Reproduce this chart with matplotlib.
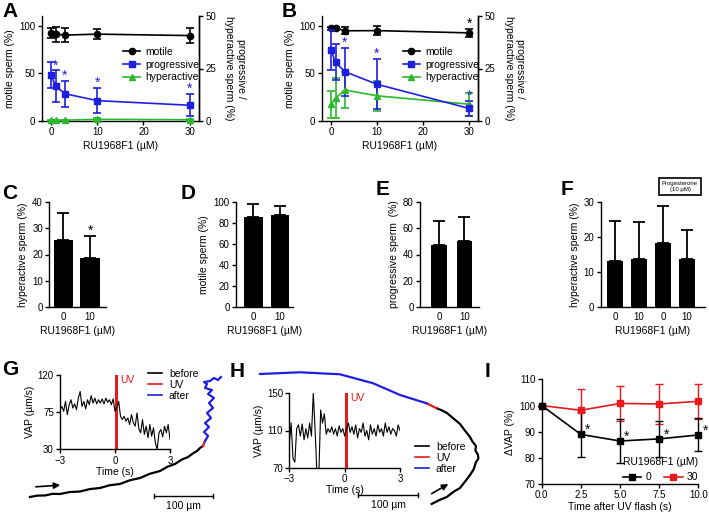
import numpy as np
import matplotlib.pyplot as plt
from matplotlib.lines import Line2D

plt.rcParams['font.family'] = ['Liberation Sans', 'DejaVu Sans']
plt.rcParams['font.size'] = 7
plt.rcParams['axes.linewidth'] = 1
plt.rcParams['xtick.major.width'] = 1
plt.rcParams['ytick.major.width'] = 1
plt.rcParams['xtick.major.size'] = 3
plt.rcParams['ytick.major.size'] = 3
plt.rcParams['xtick.major.pad'] = 1.5
plt.rcParams['ytick.major.pad'] = 1.5
plt.rcParams['axes.labelpad'] = 3

BLUE = '#1f1fe0'
GREEN = '#2cb82c'
RED = '#e8191c'

# ---- panels A / B : dose response ----
dose = [0, 1, 3, 10, 30]

a_motile = [92, 91, 90, 91, 89.5]
a_motile_err = [5, 8, 7, 5.5, 7.5]
a_prog = [21.9, 16.7, 13, 9.7, 7.5]
a_prog_err = [6, 7.5, 6.2, 6, 5.3]
a_hyper = [0.4, 0.4, 0.4, 0.8, 0.6]
a_hyper_err = [0.3, 0.3, 0.3, 0.8, 0.5]
a_prog_star = [0, 1, 1, 1, 1]

b_motile = [97, 97.5, 94.5, 94.7, 92.3]
b_motile_err = [1.5, 1.5, 3.5, 5, 4.5]
b_prog = [33.8, 28, 23.5, 17.5, 6]
b_prog_err = [9.5, 8.5, 11.4, 12, 3.5]
b_hyper = [8, 10.8, 14.8, 12, 8]
b_hyper_err = [6.5, 9.5, 8.5, 7, 5.5]
b_prog_star = [0, 0, 1, 1, 1]
b_motile_star = [0, 0, 0, 0, 1]

# ---- panels C-F : bars ----
c_labels = ['0', '10']
c_vals = [25.6, 18.5]
c_err = [10.4, 8.7]
d_vals = [85.7, 87.3]
d_err = [11.8, 8.9]
e_vals = [47, 50.3]
e_err = [18.9, 18.2]
f_labels = ['0', '10', '0', '10']
f_vals = [13.2, 13.6, 18.4, 13.8]
f_err = [11.4, 10.7, 10.6, 8.1]

# ---- panels G / H : VAP traces (t = -3..3 s, 0.1 s steps) ----
g_vap = [78, 82, 76, 88, 72, 84, 90, 80, 85, 78, 92, 100, 82, 88, 79, 90, 84, 95, 86, 92,
         85, 90, 86, 91, 85, 92, 87, 90, 84, 91, 76, 80, 88, 70, 66, 70, 64, 68, 60, 72,
         62, 58, 74, 55, 50, 66, 48, 58, 44, 60, 46, 56, 38, 30, 50, 54, 45, 58, 50, 60, 42]
h_vap = [96, 118, 80, 76, 112, 116, 104, 117, 100, 112, 102, 118, 104, 150, 110, 62, 62, 132, 118, 128,
         106, 112, 108, 114, 106, 112, 104, 115, 108, 112, 104, 112, 118, 108, 114, 106, 116, 102, 112, 108,
         118, 104, 110, 100, 116, 106, 112, 104, 116, 108, 112, 104, 118, 108, 114, 106, 112, 110, 104, 116, 110]

# sperm tracks in um
g_before_x = [50.8, 63, 76.3, 89, 101.7, 118, 135.6, 152, 169.5, 186, 203.4, 220, 237.3, 254, 271.2,
              284, 296.6, 308, 318.7, 327, 333.9, 340, 344.1]
g_before_y = [27.1, 29.5, 29.7, 32.5, 32.2, 35.5, 36.4, 40.5, 42.4, 47, 49.2, 55.5, 59.3, 66.5, 71.2,
              78.5, 83.1, 90.5, 94.9, 101, 105.1, 111, 113.6]
g_uv_x = [344.1, 347.5]
g_uv_y = [113.6, 122.0]
g_after_x = [347.5, 352.6, 345.8, 354.3, 347.5, 357.7, 350.9, 361.0, 354.3, 362.7, 352.6, 359.3,
             347.5, 350.9, 345.8, 356.0, 362.7, 369.5, 374.6]
g_after_y = [122.0, 130.5, 137.3, 145.8, 152.6, 161.0, 169.5, 178.0, 186.5, 194.9, 201.7, 208.5,
             211.9, 218.6, 222.0, 223.7, 228.8, 225.4, 230.5]

h_before_x = [324.9, 338, 350.4, 362, 372.9, 382, 389.9, 396, 400.0, 404, 403.4, 399, 400.0, 394,
              389.9, 381, 372.9, 362, 350.9, 342, 333.4]
h_before_y = [15.3, 22, 27.1, 36, 42.4, 54, 64.4, 74, 86.4, 92, 98.3, 106, 113.6, 121, 128.8, 140,
              150.9, 160, 169.5, 174, 177.5]
h_uv_x = [333.4, 316.4]
h_uv_y = [177.5, 185.9]
h_after_x = [316.4, 271.2, 225.9, 169.5, 101.7, 33.9]
h_after_y = [185.9, 200.0, 219.8, 235.1, 238.5, 235.6]

# ---- panel I ----
i_time = [0, 2.5, 5, 7.5, 10]
i_ctrl = [100, 89, 86.5, 87.3, 88.8]
i_ctrl_err = [0, 8.7, 8.3, 6.8, 6.3]
i_ru = [100, 98.2, 100.8, 100.6, 101.6]
i_ru_err = [0, 8.1, 6.6, 7.5, 6.6]
i_star = [0, 1, 1, 1, 1]

W, H = 709, 513
fig = plt.figure(figsize=(W / 100, H / 100), dpi=100)


def px_axes(x0, y0, x1, y1, **kw):
    # pixel box (top-left origin) -> figure axes
    return fig.add_axes([x0 / W, (H - y1) / H, (x1 - x0) / W, (y1 - y0) / H], **kw)


def letter(x, y, s):
    fig.text(x / W, 1 - y / H, s, fontsize=15, fontweight='bold', va='top', ha='left')


def star(ax, x, y, color='k', dx=0, dy=3.5):
    ax.annotate('*', (x, y), xytext=(dx, dy), textcoords='offset points', ha='center',
                va='center', color=color, fontsize=10, annotation_clip=False)


def dose_panel(box, motile, motile_err, prog, prog_err, hyper, hyper_err, prog_star, motile_star):
    ax = px_axes(*box)
    ax2 = ax.twinx()
    eb = dict(capsize=3, lw=1.2, elinewidth=1.2, capthick=1.2, ms=4.5, clip_on=False)
    ax.errorbar(dose, motile, yerr=motile_err, color='k', marker='o', **eb)
    ax2.errorbar(dose, hyper, yerr=hyper_err, color=GREEN, marker='^', **eb)
    ax2.errorbar(dose, prog, yerr=prog_err, color=BLUE, marker='s', **eb)
    for x, y, e, s in zip(dose, prog, prog_err, prog_star):
        if s:
            star(ax2, x, y + e, BLUE)
    for x, y, e, s in zip(dose, motile, motile_err, motile_star):
        if s:
            star(ax, x, y + e)
    ax.set_xlim(-2, 32)
    ax.set_ylim(0, 110)
    ax2.set_ylim(0, 50)
    ax.set_xticks([0, 10, 20, 30])
    ax.set_yticks([0, 50, 100])
    ax2.set_yticks([0, 25, 50])
    ax.spines['top'].set_visible(False)
    ax2.spines['top'].set_visible(False)
    ax2.spines['left'].set_visible(False)
    ax2.spines['bottom'].set_visible(False)
    ax.set_xlabel('RU1968F1 (µM)', fontsize=7.5)
    ax.set_ylabel('motile sperm (%)', fontsize=7.5)
    ax2.set_ylabel('progressive /\nhyperactive sperm (%)', rotation=270, va='bottom', fontsize=7.5,
                   labelpad=6)
    handles = [Line2D([], [], color='k', marker='o', ms=4.5, lw=1.2),
               Line2D([], [], color=BLUE, marker='s', ms=4.5, lw=1.2),
               Line2D([], [], color=GREEN, marker='^', ms=4.5, lw=1.2)]
    ax2.legend(handles, ['motile', 'progressive', 'hyperactive'], loc='upper left',
               bbox_to_anchor=(0.52, 0.705), frameon=False, fontsize=7.5, handlelength=1.6,
               handletextpad=0.5, labelspacing=0.25, borderaxespad=0, borderpad=0)
    return ax


def bar_panel(box, labels, vals, err, ylim, yticks, ylabel, width, xlim):
    ax = px_axes(*box)
    x = np.arange(len(vals))
    ax.bar(x, vals, width=width, color='k')
    ax.errorbar(x, vals, yerr=[np.zeros(len(err)), err], fmt='none', ecolor='k',
                capsize=4, elinewidth=1.3, capthick=1.3)
    ax.set_xlim(*xlim)
    ax.set_ylim(*ylim)
    ax.set_yticks(yticks)
    ax.set_xticks(x)
    ax.set_xticklabels(labels)
    ax.tick_params(axis='x', length=0, pad=4)
    ax.spines['top'].set_visible(False)
    ax.spines['right'].set_visible(False)
    ax.set_ylabel(ylabel, fontsize=7.5)
    ax.set_xlabel('RU1968F1 (µM)', fontsize=7.5)
    return ax


# A, B
dose_panel((41.7, 16, 199, 121), a_motile, a_motile_err, a_prog, a_prog_err, a_hyper, a_hyper_err,
           a_prog_star, [0] * 5)
dose_panel((321.7, 16, 478.3, 121), b_motile, b_motile_err, b_prog, b_prog_err, b_hyper, b_hyper_err,
           b_prog_star, b_motile_star)

# C-F
axc = bar_panel((49.3, 202.3, 106, 306.7), c_labels, c_vals, c_err, (0, 40), [0, 10, 20, 30, 40],
                'hyperactive sperm (%)', 0.72, (-0.53, 1.6))
star(axc, 1, c_vals[1] + c_err[1])
bar_panel((236, 201.7, 293.3, 306.7), c_labels, d_vals, d_err, (0, 100), [0, 20, 40, 60, 80, 100],
          'motile sperm (%)', 0.69, (-0.65, 1.5))
bar_panel((420, 202.3, 479, 306.7), c_labels, e_vals, e_err, (0, 80), [0, 20, 40, 60, 80],
          'progressive sperm  (%)', 0.6, (-0.75, 1.58))
axf = bar_panel((600.7, 202.3, 705, 306.7), f_labels, f_vals, f_err, (0, 30), [0, 10, 20, 30],
                'hyperactive sperm (%)', 0.64, (-0.59, 3.74))
fig.text(680 / W, 1 - 186.5 / H, 'Progesterone\n(10 µM)', fontsize=4.3, ha='center', va='center',
         linespacing=1.2,
         bbox=dict(boxstyle='square,pad=0.45', fc='white', ec='k', lw=1.2))

# G / H tracks
k = 100 / 59.0
for x0, bx, by, ux, uy, ax_, ay_, arrow, bar_x, bar_y, leg in [
        (0, g_before_x, g_before_y, g_uv_x, g_uv_y, g_after_x, g_after_y,
         ((55.9, 44.1), (106.8, 47.5)), (261, 361), 28.8, (148, 369)),
        (240, h_before_x, h_before_y, h_uv_x, h_uv_y, h_after_x, h_after_y,
         ((320.9, 30.5), (357.1, 51.4)), (200.5, 302.2), 30.5, (415, 442))]:
    tr = px_axes(x0, 340, x0 + 240, 513)
    tr.set_xlim(0, 240 * k)
    tr.set_ylim(0, 173 * k)
    tr.axis('off')
    tr.plot(bx, by, color='k', lw=1.6)
    tr.plot(ux, uy, color=RED, lw=1.6)
    tr.plot(ax_, ay_, color='#1f1fe0', lw=1.6)
    tr.annotate('', xy=arrow[1], xytext=arrow[0],
                arrowprops=dict(arrowstyle='-|>', color='k', lw=1.2, mutation_scale=9))
    tr.plot(bar_x, [bar_y, bar_y], color='k', lw=1)
    for bxx in bar_x:
        tr.plot([bxx, bxx], [bar_y - 4, bar_y + 4], color='k', lw=1)
    tr.text(np.mean(bar_x), bar_y - 9, '100 µm', ha='center', va='top', fontsize=7.5)
    handles = [Line2D([], [], color=c, lw=1.2) for c in ['k', RED, '#1f1fe0']]
    fig.legend(handles, ['before', 'UV', 'after'], loc='upper left',
               bbox_to_anchor=(leg[0] / W, 1 - leg[1] / H), frameon=False, fontsize=7.5,
               handlelength=1.3, handletextpad=0.7, labelspacing=0.1, borderaxespad=0, borderpad=0)

t = np.linspace(-3, 3, len(g_vap))
for box, vap, ylim, yticks in [((60, 375, 170, 449.3), g_vap, (30, 120), [30, 75, 120]),
                               ((289.3, 393.3, 400, 467.7), h_vap, (70, 150), [70, 110, 150])]:
    ins = px_axes(*box)
    ins.patch.set_alpha(0)
    ins.plot(t, vap, color='k', lw=0.8)
    ins.axvspan(0, 0.18, color=RED, lw=0)
    ins.text(0.28, ylim[1], 'UV', color=RED, ha='left', va='top', fontsize=7.5)
    ins.set_xlim(-3, 3)
    ins.set_ylim(*ylim)
    ins.set_xticks([-3, 0, 3])
    ins.set_yticks(yticks)
    ins.spines['top'].set_visible(False)
    ins.spines['right'].set_visible(False)
    ins.set_xlabel('Time (s)', fontsize=7.5, labelpad=1)
    ins.set_ylabel('VAP (µm/s)', fontsize=7.5, labelpad=2)

# I
axi = px_axes(541.7, 379.3, 698.3, 484.3)
eb = dict(capsize=3, lw=1.2, elinewidth=1, capthick=1, ms=4, marker='s', clip_on=False)
axi.errorbar(i_time, i_ru, yerr=i_ru_err, color=RED, **eb)
axi.errorbar(i_time, i_ctrl, yerr=i_ctrl_err, color='k', **eb)
for x, y, s in zip(i_time, i_ctrl, i_star):
    if s:
        star(axi, x, y, dx=5, dy=3)
axi.set_xlim(0, 10)
axi.set_ylim(70, 110)
axi.set_xticks([0, 2.5, 5, 7.5, 10])
axi.set_xticklabels(['0.0', '2.5', '5.0', '7.5', '10.0'])
axi.set_yticks([70, 80, 90, 100, 110])
axi.tick_params(axis='x', pad=1)
axi.spines['top'].set_visible(False)
axi.spines['right'].set_visible(False)
axi.set_xlabel('Time after UV flash (s)', fontsize=7.5, labelpad=1.5)
axi.set_ylabel('ΔVAP (%)', fontsize=7.5)
handles = [Line2D([], [], color='k', marker='s', ms=4, lw=1.2),
           Line2D([], [], color=RED, marker='s', ms=4, lw=1.2)]
axi.legend(handles, ['0', '30'], title='RU1968F1 (µM)', ncol=2, loc='lower right',
           bbox_to_anchor=(1.0, 0.02), frameon=False, fontsize=7.5, title_fontsize=7.5,
           handlelength=1.8, handletextpad=0.4, columnspacing=1.2, borderaxespad=0, borderpad=0)

letter(2, 2, 'A')
letter(282, 2, 'B')
letter(2, 184, 'C')
letter(181, 184, 'D')
letter(376, 180, 'E')
letter(561, 180, 'F')
letter(2, 360, 'G')
letter(230, 362, 'H')
letter(485, 362, 'I')

fig.savefig('out.png', dpi=100)
